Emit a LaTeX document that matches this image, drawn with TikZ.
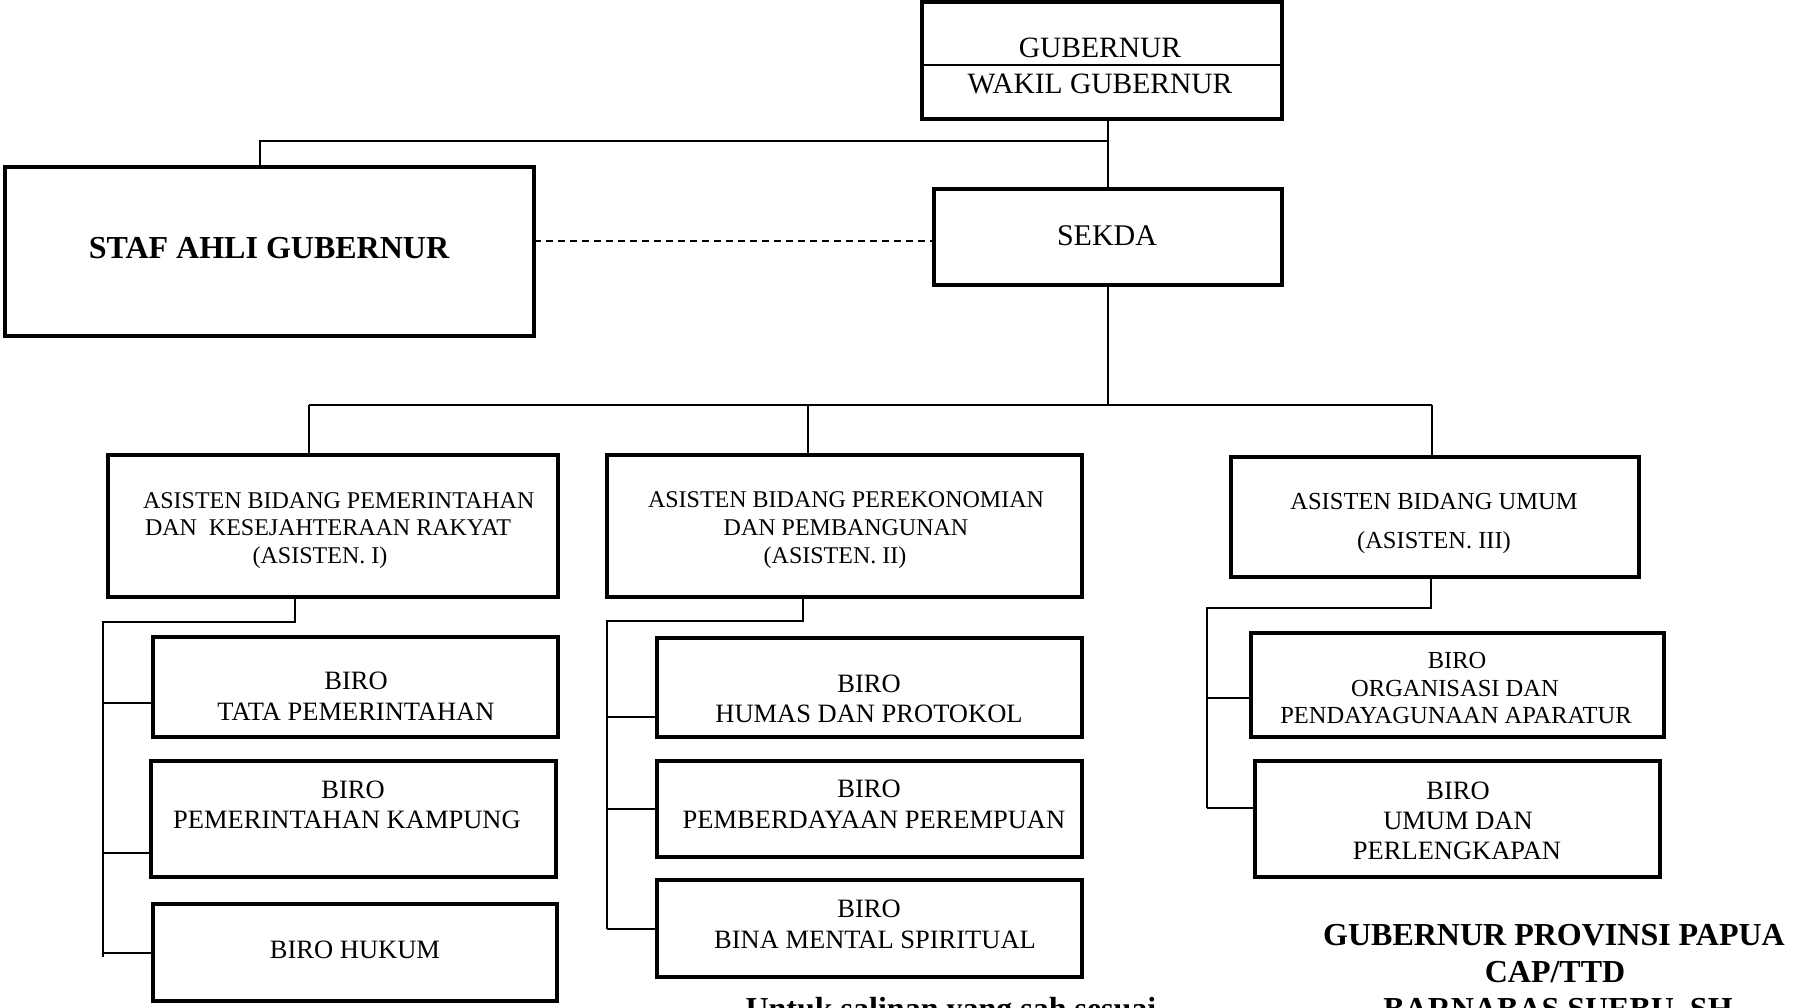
\documentclass[tikz,border=0pt]{standalone}
\usepackage{fontspec}
\setmainfont{Liberation Serif}
\newcommand\fGub{\fontsize{29.5}{34}\selectfont}
\newcommand\fSek{\fontsize{30}{34}\selectfont}
\newcommand\fAsis{\fontsize{24}{28}\selectfont}
\newcommand\fAsisC{\fontsize{24.5}{28}\selectfont}
\newcommand\fBiro{\fontsize{26.5}{30}\selectfont}
\newcommand\fBiroS{\fontsize{24.5}{28}\selectfont}
\newcommand\fBold{\fontsize{32}{38}\selectfont\bfseries}
\begin{document}
\begin{tikzpicture}[x=1pt,y=-1pt,
  box/.style={draw, line width=4pt, inner sep=0pt, outer sep=0pt},
  conn/.style={line width=2pt},
  lbl/.style={inner sep=0pt, outer sep=0pt, anchor=base},
  lblw/.style={inner sep=0pt, outer sep=0pt, anchor=base west}]
\useasboundingbox (0,0) rectangle (1793,1008);
\clip (0,0) rectangle (1793,1008);
\fill[white] (0,0) rectangle (1793,1008);

% boxes
\node[box, minimum width=360pt, minimum height=117pt] (gub) at (1101.5,60.5) {};
\node[box, minimum width=529pt, minimum height=169pt] (staf) at (269.5,251.5) {};
\node[box, minimum width=348pt, minimum height=96pt] (sekda) at (1108,237) {};
\node[box, minimum width=450pt, minimum height=142pt] (a1) at (333,526) {};
\node[box, minimum width=475pt, minimum height=142pt] (a2) at (844.5,526) {};
\node[box, minimum width=408pt, minimum height=120pt] (a3) at (1435,517) {};
\node[box, minimum width=405pt, minimum height=100pt] (b11) at (355.5,687) {};
\node[box, minimum width=405pt, minimum height=116pt] (b12) at (353.5,819) {};
\node[box, minimum width=404pt, minimum height=97pt] (b13) at (355,952.5) {};
\node[box, minimum width=425pt, minimum height=99pt] (b21) at (869.5,687.5) {};
\node[box, minimum width=425pt, minimum height=96pt] (b22) at (869.5,809) {};
\node[box, minimum width=425pt, minimum height=97pt] (b23) at (869.5,928.5) {};
\node[box, minimum width=413pt, minimum height=104pt] (b31) at (1457.5,685) {};
\node[box, minimum width=405pt, minimum height=116pt] (b32) at (1457.5,819) {};

% separator in gubernur box
\coordinate (sep) at (0,65);
\draw[conn] (gub.west |- sep) -- (gub.east |- sep);

% top connectors
\coordinate (j0) at (1108,141);
\draw[conn] (gub.south -| sekda.north) -- (sekda.north);
\draw[conn] (j0) -| ([xshift=-10pt]staf.north);
\draw[conn, dash pattern=on 7pt off 5pt] (staf.east |- sekda.west) ++(0,4) -- ([yshift=-4pt]sekda.west);

% sekda to asisten
\coordinate (h1) at (1108,405);
\coordinate (hl) at (309,405);
\coordinate (hm) at (808,405);
\coordinate (hr) at (1432,405);
\draw[conn] (sekda.south) -- (h1);
\draw[line width=2.5pt] (hl) -- (hr);
\draw[conn] (hl) -- (hl |- a1.north);
\draw[conn] (hm) -- (hm |- a2.north);
\draw[conn] (hr) -- (hr |- a3.north);

% asisten I subtree
\coordinate (d1) at (295,622);
\coordinate (s1t) at (103,622);
\coordinate (s1b) at (103,957);
\draw[conn] (d1 |- a1.south) -- (d1) -- (s1t) -- (s1b);
\draw[conn] ([yshift=-16pt]b11.west -| s1t) -- ([yshift=-16pt]b11.west);
\draw[conn] ([yshift=-34pt]b12.west -| s1t) -- ([yshift=-34pt]b12.west);
\draw[conn] (b13.west -| s1t) -- (b13.west);

% asisten II subtree
\coordinate (d2) at (803,621);
\coordinate (s2t) at (607,621);
\coordinate (s2b) at (607,929);
\draw[conn] (d2 |- a2.south) -- (d2) -- (s2t) -- (s2b);
\draw[conn] ([yshift=-29.5pt]b21.west -| s2t) -- ([yshift=-29.5pt]b21.west);
\draw[conn] (b22.west -| s2t) -- (b22.west);
\draw[conn] (b23.west -| s2t) -- (b23.west);

% asisten III subtree
\coordinate (d3) at (1431,608);
\coordinate (s3t) at (1207,608);
\coordinate (s3b) at (1207,808);
\draw[conn] (d3 |- a3.south) -- (d3) -- (s3t) -- (s3b);
\draw[conn] ([yshift=-13pt]b31.west -| s3t) -- ([yshift=-13pt]b31.west);
\draw[conn] ([yshift=11pt]b32.west -| s3t) -- ([yshift=11pt]b32.west);

% texts
\node[lbl, font=\fGub] (tg1) at (1100,57.5) {GUBERNUR};
\node[lbl, font=\fGub] (tg2) at (1100,94) {WAKIL GUBERNUR};
\node[lbl, font=\fSek] (tsek) at (1107,246) {SEKDA};
\node[lbl, font=\fBold] (tstaf) at (269,259) {STAF AHLI GUBERNUR};

\node[lblw, font=\fAsis] (ta11) at (143,508) {ASISTEN BIDANG PEMERINTAHAN};
\node[lblw, font=\fAsis] (ta12) at (145,535) {DAN\ \ KESEJAHTERAAN RAKYAT};
\node[lbl, font=\fAsis] (ta13) at (320,563) {(ASISTEN. I)};

\node[lbl, font=\fAsis] (ta21) at (846,507) {ASISTEN BIDANG PEREKONOMIAN};
\node[lbl, font=\fAsis] (ta22) at (846,535) {DAN PEMBANGUNAN};
\node[lbl, font=\fAsis] (ta23) at (835,563) {(ASISTEN. II)};

\node[lbl, font=\fAsisC] (ta31) at (1434,509) {ASISTEN BIDANG UMUM};
\node[lbl, font=\fAsisC] (ta32) at (1434,548) {(ASISTEN. III)};

\node[lbl, font=\fBiro] (tb111) at (356,689) {BIRO};
\node[lbl, font=\fBiro] (tb112) at (356,720) {TATA PEMERINTAHAN};
\node[lbl, font=\fBiro] (tb121) at (353,798) {BIRO};
\node[lbl, font=\fBiro] (tb122) at (347,828) {PEMERINTAHAN KAMPUNG};
\node[lbl, font=\fBiro] (tb131) at (355,958) {BIRO HUKUM};

\node[lbl, font=\fBiro] (tb211) at (869,692) {BIRO};
\node[lbl, font=\fBiro] (tb212) at (869,722) {HUMAS DAN PROTOKOL};
\node[lbl, font=\fBiro] (tb221) at (869,797) {BIRO};
\node[lbl, font=\fBiro] (tb222) at (874,828) {PEMBERDAYAAN PEREMPUAN};
\node[lbl, font=\fBiro] (tb231) at (869,917) {BIRO};
\node[lbl, font=\fBiro] (tb232) at (875,948) {BINA MENTAL SPIRITUAL};

\node[lbl, font=\fBiroS] (tb311) at (1457,668) {BIRO};
\node[lbl, font=\fBiroS] (tb312) at (1455,696) {ORGANISASI DAN};
\node[lbl, font=\fBiroS] (tb313) at (1456,723) {PENDAYAGUNAAN APARATUR};
\node[lbl, font=\fBiro] (tb321) at (1458,799) {BIRO};
\node[lbl, font=\fBiro] (tb322) at (1458,829) {UMUM DAN};
\node[lbl, font=\fBiro] (tb323) at (1457,859) {PERLENGKAPAN};

\node[lbl, font=\fBold] (tf1) at (1554,945) {GUBERNUR PROVINSI PAPUA};
\node[lbl, font=\fBold] (tf2) at (1555,982) {CAP/TTD};
\node[lbl, font=\fBold] (tf3) at (1558,1019) {BARNABAS SUEBU, SH};
\node[lbl, font=\fBold] (tf4) at (951,1019) {Untuk salinan yang sah sesuai};
\end{tikzpicture}
\end{document}
